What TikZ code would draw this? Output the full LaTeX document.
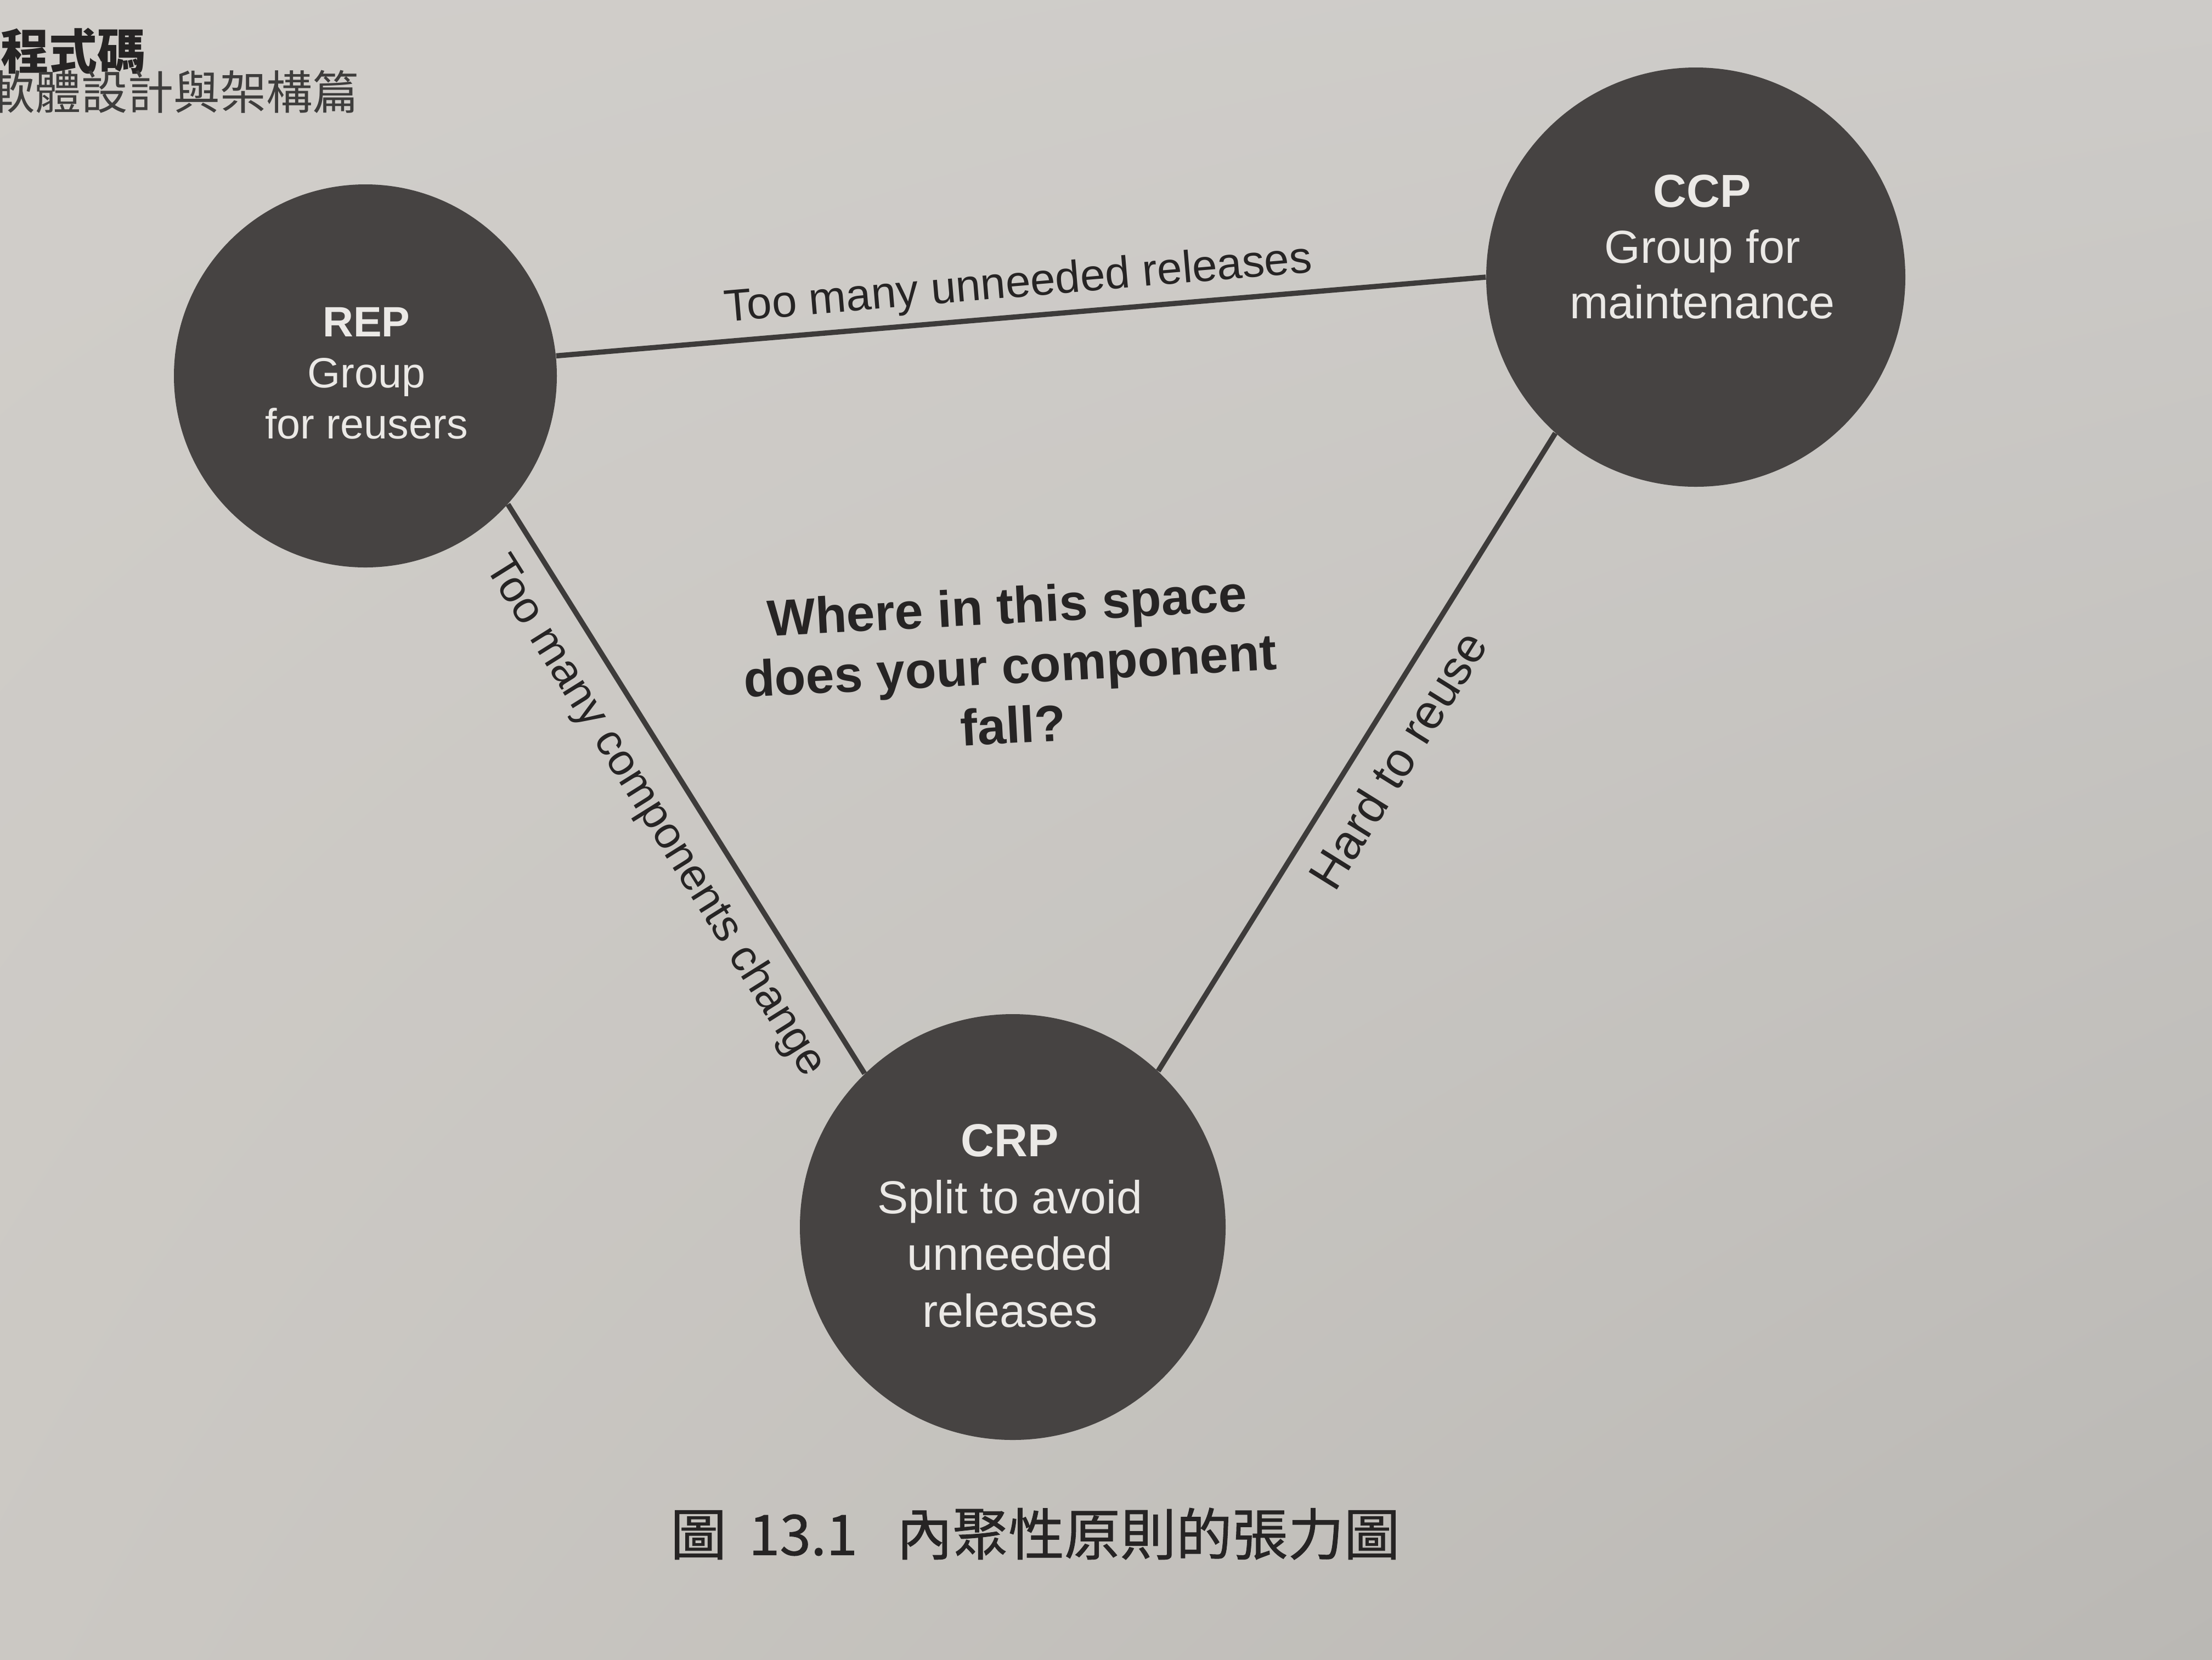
\documentclass[tikz,border=0pt]{standalone}
\usepackage{fontspec}
\usetikzlibrary{shadings}
\setmainfont{Liberation Sans}
\newfontfamily\cjk{Noto Sans CJK TC}
\newfontfamily\cjkcap[FakeBold=0.9]{Noto Sans CJK TC}
\definecolor{paperUL}{HTML}{D1CECA}
\definecolor{paperUR}{HTML}{CDCBC8}
\definecolor{paperLL}{HTML}{CBC8C3}
\definecolor{paperLR}{HTML}{BAB8B4}
\definecolor{paper}{HTML}{C9C8C4}
\definecolor{discc}{HTML}{464342}
\definecolor{linec}{HTML}{3D3B3A}
\definecolor{inkc}{HTML}{262424}
\definecolor{wtext}{HTML}{EBE9E6}
\pgfdeclarelayer{bg}
\pgfdeclarelayer{lines}
\pgfsetlayers{bg,lines,main}
\tikzset{
  disc/.style={circle, fill=discc, draw=none, inner sep=0pt},
  disctext/.style={text=wtext, align=center, inner sep=0pt},
  edgeline/.style={draw=linec, line width=2.7pt},
  elabel/.style={text=inkc, inner sep=4pt},
  qtext/.style={text=inkc, align=center, font=\bfseries\fontsize{26.5}{31}\selectfont},
}
\begin{document}
\begin{tikzpicture}
\useasboundingbox (0,0) rectangle (40.32,-30.24);
\begin{pgfonlayer}{bg}
  \shade[upper left=paperUL, upper right=paperUR, lower left=paperLL, lower right=paperLR] (0,0) rectangle (40.32,-30.24);
\end{pgfonlayer}

% circles
\node[disc, minimum size=6.98cm] (rep) at (6.66,-6.85) {};
\node[disc, minimum size=7.64cm] (ccp) at (30.91,-5.05) {};
\node[disc, minimum size=7.76cm] (crp) at (18.46,-22.36) {};

% circle texts
\node[disctext, font=\fontsize{22}{26.5}\selectfont] (repT) at (6.68,-6.80)
  {\textbf{REP}\\Group\\for reusers};
\node[disctext, font=\fontsize{24}{29}\selectfont] (ccpT) at (31.03,-4.50)
  {\textbf{CCP}\\Group for\\maintenance};
\node[disctext, font=\fontsize{24}{29.5}\selectfont] (crpT) at (18.41,-22.34)
  {\textbf{CRP}\\Split to avoid\\unneeded\\releases};

% connectors with labels
\begin{pgfonlayer}{lines}
  \path[edgeline] (rep.6) -- node[elabel, above, sloped, pos=0.5, font=\fontsize{23.3}{27}\selectfont] (l1) {Too many unneeded releases} (ccp.180);
  \path[edgeline] (rep.-42.7) -- node[elabel, below, sloped, pos=0.51, inner sep=9.5pt, font=\fontsize{23}{27}\selectfont] (l2) {Too many components change} (crp.134.1);
  \path[edgeline] (crp.47.1) -- node[elabel, below, sloped, pos=0.52, inner sep=9.5pt, font=\fontsize{25}{29}\selectfont] (l3) {Hard to reuse} (ccp.228.1);
\end{pgfonlayer}

% central question
\node[qtext, rotate=3] (q) at (18.41,-12.12) {Where in this space\\does your component\\fall?};

% caption
\node[text=inkc, font=\cjkcap\fontsize{29}{33}\selectfont, inner sep=0pt] (cap) at (18.87,-27.95)
  {圖\hspace{0.4em}13.1\hspace{0.7em}內聚性原則的張力圖};

% running header
\node[text=inkc, font=\cjk\bfseries\fontsize{25}{29}\selectfont, anchor=east, inner sep=0pt] (h1) at (2.66,-0.93) {程式碼};
\node[text=inkc!85!paper, font=\cjk\fontsize{24}{28}\selectfont, anchor=east, inner sep=0pt] (h2) at (6.55,-1.67) {軟體設計與架構篇};
\end{tikzpicture}
\end{document}
